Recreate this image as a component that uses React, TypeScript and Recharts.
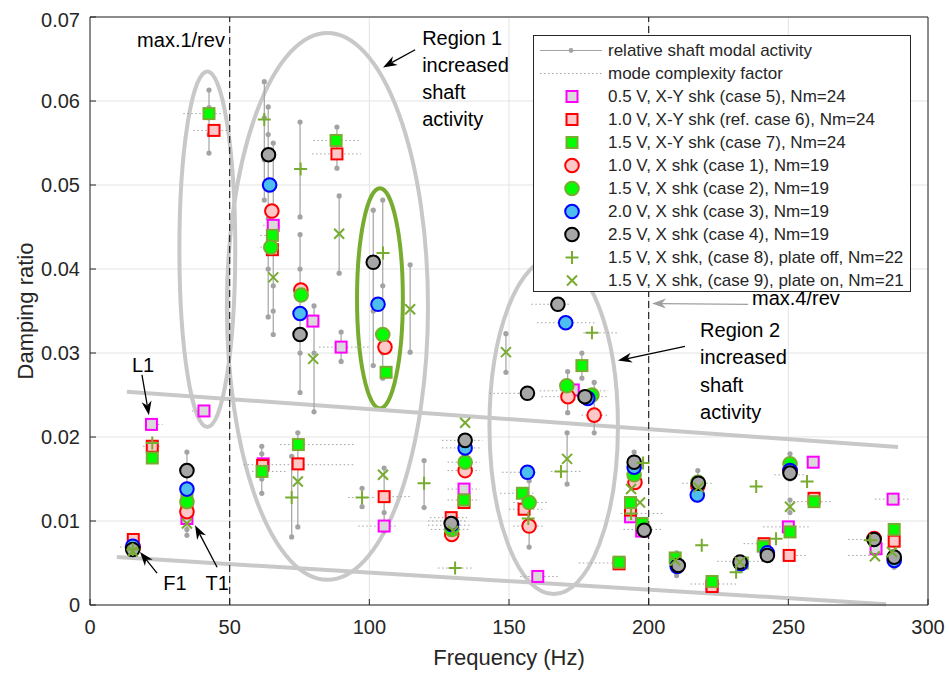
import React from 'react';
import {
  ScatterChart,
  Scatter,
  XAxis,
  YAxis,
  CartesianGrid,
  ReferenceLine,
  ReferenceArea,
  Legend,
} from 'recharts';

type Pt = [number, number];

// damping ratio vs frequency (Hz), one list per test case
const case5: Pt[] = [
  [22, 0.0215], [34.7, 0.0103], [40.8, 0.0231], [62, 0.0168], [65.6, 0.0452], [79.8, 0.0338],
  [89.9, 0.0307], [105.3, 0.0094], [133.9, 0.0138], [160.3, 0.0034], [173, 0.0256],
  [193.5, 0.0105], [197.5, 0.0088], [222.7, 0.0023], [250, 0.0093], [258.9, 0.017],
  [281.4, 0.0067], [287.5, 0.0126],
];
const case6: Pt[] = [
  [15.5, 0.0078], [22.3, 0.0189], [34.7, 0.0117], [44.4, 0.0565], [61.8, 0.0166], [65.3, 0.0423],
  [74.5, 0.0168], [88.4, 0.0537], [105.3, 0.0129], [129.3, 0.0104], [133.9, 0.0122],
  [155.4, 0.0114], [189.4, 0.0049], [193.5, 0.0113], [222.7, 0.0022], [241.3, 0.0073],
  [250.3, 0.0059], [259.2, 0.0127], [287.9, 0.0076],
];
const case7: Pt[] = [
  [22.3, 0.0175], [34.7, 0.0126], [42.6, 0.0585], [61.6, 0.0159], [65.3, 0.044], [74.6, 0.0191],
  [88.1, 0.0553], [106, 0.0277], [129.5, 0.0095], [133.9, 0.0125], [154.8, 0.0133],
  [176.1, 0.0285], [193.5, 0.0122], [197.6, 0.0097], [189.4, 0.0051], [209.5, 0.0056],
  [222.7, 0.0028], [233.5, 0.005], [241, 0.007], [250.6, 0.0087], [259.2, 0.0123], [287.9, 0.009],
];
const case1: Pt[] = [
  [15.5, 0.0069], [34.7, 0.0111], [65.1, 0.0469], [75.5, 0.0375], [105.6, 0.0307], [129.5, 0.0084],
  [134.3, 0.016], [157.2, 0.0094], [171.1, 0.0248], [180.5, 0.0226], [195.1, 0.0146],
  [217.6, 0.0142], [250.6, 0.016], [280.7, 0.0079],
];
const case2: Pt[] = [
  [34.7, 0.0123], [64.7, 0.0426], [75.6, 0.0369], [104.8, 0.0322], [129.5, 0.009], [134.3, 0.017],
  [157.2, 0.0122], [170.7, 0.0261], [179.7, 0.025], [194.8, 0.0155], [217.6, 0.0146],
  [250.6, 0.0168],
];
const case3: Pt[] = [
  [15.3, 0.007], [34.7, 0.0138], [64.3, 0.05], [75.2, 0.0347], [103.1, 0.0358], [129.5, 0.0096],
  [134.3, 0.0187], [156.6, 0.0158], [170.3, 0.0336], [178.2, 0.0246], [194.8, 0.0164],
  [210.2, 0.0046], [217.4, 0.0131], [233, 0.0049], [242.5, 0.0062], [250.6, 0.016], [287.9, 0.0053],
];
const case4: Pt[] = [
  [15.3, 0.0066], [34.7, 0.016], [63.9, 0.0536], [75.2, 0.0322], [101.4, 0.0408], [129.3, 0.0097],
  [134.3, 0.0196], [156.6, 0.0252], [167.5, 0.0358], [177.2, 0.0248], [194.8, 0.017],
  [198.4, 0.0089], [210.6, 0.0047], [217.8, 0.0145], [232.7, 0.0051], [242.5, 0.0059],
  [250.6, 0.0157], [280.7, 0.0078], [287.9, 0.0057],
];
const case8: Pt[] = [
  [15.3, 0.0066], [22.3, 0.0193], [62.4, 0.0578], [72.2, 0.0128], [75.4, 0.0519], [97.4, 0.0128],
  [104.9, 0.0419], [119.6, 0.0145], [130.7, 0.0044], [156.9, 0.0103], [168.6, 0.0159],
  [179.7, 0.0324], [193.7, 0.0109], [198, 0.0169], [219, 0.0071], [231.3, 0.0039],
  [238.5, 0.0141], [245.6, 0.0079], [256.7, 0.0147], [279.3, 0.0077],
];
const case9: Pt[] = [
  [15.3, 0.0064], [34.7, 0.0097], [65.6, 0.039], [74.4, 0.0147], [79.9, 0.0293], [89.2, 0.0442],
  [104.9, 0.0155], [114.6, 0.0352], [130, 0.0088], [134.3, 0.0217], [148.9, 0.0301],
  [170.8, 0.0174], [193.7, 0.0138], [196.9, 0.0122], [209.5, 0.0053], [217.8, 0.014],
  [232.7, 0.0051], [250.6, 0.0117], [281, 0.0058], [287.1, 0.0063],
];

// relative shaft modal activity: frequency, damping values along the bar
const shaftBars: [number, number[]][] = [
  [15.3, [0.0063, 0.0075]],
  [34.7, [0.0083, 0.009, 0.01, 0.016, 0.0182]],
  [42.6, [0.0538, 0.056, 0.058, 0.0592, 0.0613]],
  [62.4, [0.0482, 0.053, 0.058, 0.0623]],
  [63.8, [0.0343, 0.04, 0.046, 0.05, 0.056, 0.0593]],
  [65.6, [0.0322, 0.035, 0.038, 0.042, 0.055]],
  [75.2, [0.0462, 0.0575]],
  [75.2, [0.0253, 0.03, 0.035, 0.04, 0.0441]],
  [80.2, [0.023, 0.03, 0.0356]],
  [88.4, [0.052, 0.0569]],
  [89.9, [0.029, 0.0325]],
  [89.2, [0.0395, 0.0487]],
  [101.4, [0.0285, 0.035, 0.047]],
  [104.8, [0.027, 0.03, 0.038, 0.0482]],
  [114.6, [0.0301, 0.0405]],
  [61.5, [0.0133, 0.015, 0.018, 0.0189]],
  [74.4, [0.0093, 0.0205]],
  [72.2, [0.0081, 0.0177]],
  [105.3, [0.0088, 0.011, 0.0163]],
  [97.4, [0.0117, 0.0139]],
  [119.6, [0.0116, 0.0172]],
  [129.3, [0.0078, 0.0106]],
  [148.9, [0.0277, 0.0323]],
  [157.2, [0.0069, 0.0148]],
  [170.8, [0.0144, 0.0205]],
  [171, [0.0229, 0.0278]],
  [180.5, [0.0205, 0.0265]],
  [176.1, [0.027, 0.03]],
  [194.8, [0.014, 0.0182]],
  [217.6, [0.0125, 0.016]],
  [250.6, [0.015, 0.018]],
  [250.6, [0.011, 0.0125]],
  [210, [0.0035, 0.0062]],
  [287.9, [0.0045, 0.0075]],
];

// mode complexity factor: damping, from f, to f
const mcf: [number, number, number][] = [
  [0.0585, 33.4, 47], [0.0565, 37, 51], [0.0553, 80, 97], [0.0537, 79.5, 97],
  [0.0452, 62, 68], [0.044, 61, 68], [0.0426, 61, 67], [0.0307, 82, 100],
  [0.0231, 36.5, 43.5], [0.0215, 20, 26], [0.0189, 19, 25], [0.0191, 68, 95],
  [0.0167, 55, 95], [0.0159, 58, 70], [0.0069, 10.7, 16], [0.0128, 92.4, 102],
  [0.0129, 106.8, 114.6], [0.0094, 96, 110], [0.0044, 124.6, 137], [0.0104, 121.7, 135],
  [0.01, 121, 135], [0.0095, 121, 136], [0.009, 122, 136], [0.0138, 128, 139.6],
  [0.0125, 128, 139.6], [0.016, 128, 139.6], [0.017, 128, 139.6], [0.0187, 126, 139.6],
  [0.0196, 126, 140.5], [0.0158, 147.5, 160], [0.0133, 146.8, 158.7], [0.0122, 151.5, 164],
  [0.0114, 150, 163], [0.0094, 151.5, 163], [0.0034, 154, 167.6], [0.0358, 158, 172],
  [0.0336, 160, 181], [0.0324, 176.6, 188.7], [0.0252, 143, 155], [0.0255, 161, 185.5],
  [0.0248, 161.6, 185], [0.0226, 176, 186], [0.0159, 165, 176], [0.005, 175, 188],
  [0.0109, 190, 205], [0.009, 191, 205], [0.0155, 245, 256], [0.0123, 251.7, 266],
  [0.0126, 281, 294], [0.0093, 241, 257.8], [0.0073, 234, 241.7], [0.0052, 224.5, 240.6],
  [0.0078, 271.4, 281.8], [0.0059, 271.4, 282], [0.0059, 250, 257], [0.0025, 215, 232],
  [0.0145, 212, 222.7],
];

const xTicks = [0, 50, 100, 150, 200, 250, 300];
const yTicks = [0, 0.01, 0.02, 0.03, 0.04, 0.05, 0.06, 0.07];

// annotation shapes (data coordinates)
const ellipses = [
  { f0: 32, f1: 52, d0: 0.0212, d1: 0.0635, color: '#c8c8c8' },
  { f0: 49, f1: 121, d0: 0.003, d1: 0.0681, color: '#c8c8c8' },
  { f0: 143, f1: 189, d0: 0.0013, d1: 0.0413, color: '#c8c8c8' },
  { f0: 95.6, f1: 112, d0: 0.0234, d1: 0.0496, color: '#77ac30' },
];
const bands = [
  { a: [13.2, 0.0254], b: [289.3, 0.0188] },
  { a: [9.6, 0.0057], b: [285, 0.0001] },
];
const arrows = [
  { a: [116.4, 0.0661], b: [104.9, 0.064], color: '#000' },
  { a: [213, 0.0308], b: [189, 0.0291], color: '#000' },
  { a: [235.6, 0.0358], b: [201.2, 0.0359], color: '#a0a0a0' },
  { a: [18.6, 0.0274], b: [21.1, 0.0226], color: '#000' },
  { a: [24, 0.0038], b: [17.9, 0.0063], color: '#000' },
  { a: [45.5, 0.0045], b: [37.6, 0.0095], color: '#000' },
];
const notes = [
  { f: 48.3, d: 0.0673, text: 'max.1/rev', anchor: 'end' },
  { f: 118.9, d: 0.0675, text: 'Region 1', anchor: 'start' },
  { f: 118.9, d: 0.0643, text: 'increased', anchor: 'start' },
  { f: 118.9, d: 0.0611, text: 'shaft', anchor: 'start' },
  { f: 118.9, d: 0.0579, text: 'activity', anchor: 'start' },
  { f: 218.4, d: 0.0327, text: 'Region 2', anchor: 'start' },
  { f: 218.4, d: 0.0295, text: 'increased', anchor: 'start' },
  { f: 218.4, d: 0.0262, text: 'shaft', anchor: 'start' },
  { f: 218.4, d: 0.023, text: 'activity', anchor: 'start' },
  { f: 237, d: 0.0365, text: 'max.4/rev', anchor: 'start' },
  { f: 19, d: 0.0286, text: 'L1', anchor: 'middle' },
  { f: 30.4, d: 0.0026, text: 'F1', anchor: 'middle' },
  { f: 45.5, d: 0.0026, text: 'T1', anchor: 'middle' },
];

const OLIVE = '#77ac30';
const GREY = '#a3a3a3';

const square = (stroke: string, fill: string) => (p: any) => (
  <rect x={p.cx - 5.5} y={p.cy - 5.5} width={11} height={11} fill={fill} stroke={stroke} strokeWidth={2} />
);
const circle = (stroke: string, fill: string) => (p: any) => (
  <circle cx={p.cx} cy={p.cy} r={6.8} fill={fill} stroke={stroke} strokeWidth={2} />
);
const plus = (p: any) => (
  <path d={`M${p.cx - 6.5},${p.cy}h13M${p.cx},${p.cy - 6.5}v13`} stroke={OLIVE} strokeWidth={2} />
);
const cross = (p: any) => (
  <path d={`M${p.cx - 5},${p.cy - 5}l10,10M${p.cx - 5},${p.cy + 5}l10,-10`} stroke={OLIVE} strokeWidth={2} />
);
const greyDot = (p: any) => <circle cx={p.cx} cy={p.cy} r={2.6} fill={GREY} />;
const noDot = () => <g />;

const series = [
  { name: '0.5 V, X-Y shk (case 5), Nm=24', data: case5, shape: square('#ff00ff', '#d9d9d9') },
  { name: '1.0 V, X-Y shk (ref. case 6), Nm=24', data: case6, shape: square('#ff0000', '#ffc8c8') },
  { name: '1.5 V, X-Y shk (case 7), Nm=24', data: case7, shape: square(OLIVE, '#00ff00') },
  { name: '1.0 V, X shk (case 1), Nm=19', data: case1, shape: circle('#ff0000', '#ffc8c8') },
  { name: '1.5 V, X shk (case 2), Nm=19', data: case2, shape: circle(OLIVE, '#00ff00') },
  { name: '2.0 V, X shk (case 3), Nm=19', data: case3, shape: circle('#0000ff', '#4dbeee') },
  { name: '2.5 V, X shk (case 4), Nm=19', data: case4, shape: circle('#000000', '#a6a6a6') },
  { name: '1.5 V, X shk, (case 8), plate off, Nm=22', data: case8, shape: plus },
  { name: '1.5 V, X shk, (case 9), plate on, Nm=21', data: case9, shape: cross },
];

const arrowShape = (color: string) => (p: any) => {
  const { x1, y1, x2, y2 } = p;
  const ang = Math.atan2(y2 - y1, x2 - x1);
  const c = Math.cos(ang);
  const s = Math.sin(ang);
  const L = 14;
  const W = 5;
  const bx = x2 - L * c;
  const by = y2 - L * s;
  const mx = x2 - 0.7 * L * c;
  const my = y2 - 0.7 * L * s;
  return (
    <g>
      <line x1={x1} y1={y1} x2={mx} y2={my} stroke={color} strokeWidth={1.3} />
      <path
        d={`M${x2},${y2}L${bx - s * W},${by + c * W}L${mx},${my}L${bx + s * W},${by - c * W}Z`}
        fill={color}
      />
    </g>
  );
};

const ellipseShape = (color: string) => (p: any) => (
  <ellipse
    cx={p.x + p.width / 2}
    cy={p.y + p.height / 2}
    rx={Math.abs(p.width) / 2}
    ry={Math.abs(p.height) / 2}
    fill="none"
    stroke={color}
    strokeWidth={4}
  />
);

const noteShape = (p: any) => (
  <text
    x={p.cx}
    y={p.cy}
    textAnchor={p.payload.anchor}
    dominantBaseline="central"
    fontSize={20}
    fill="#000"
  >
    {p.payload.text}
  </text>
);

const LegendBox = () => (
  <div
    style={{
      width: 378,
      height: 257,
      border: '1px solid #262626',
      background: '#fff',
      boxSizing: 'border-box',
      paddingTop: 3,
    }}
  >
    <div style={{ display: 'flex', alignItems: 'center', height: 23 }}>
      <svg width={74} height={23}>
        <line x1={6} y1={11.5} x2={68} y2={11.5} stroke={GREY} strokeWidth={1.2} />
        <circle cx={37} cy={11.5} r={2.4} fill={GREY} />
      </svg>
      <span style={{ fontSize: 17, color: '#262626', whiteSpace: 'nowrap' }}>relative shaft modal activity</span>
    </div>
    <div style={{ display: 'flex', alignItems: 'center', height: 23 }}>
      <svg width={74} height={23}>
        <line x1={6} y1={11.5} x2={68} y2={11.5} stroke={GREY} strokeWidth={1} strokeDasharray="1.5 2.5" />
      </svg>
      <span style={{ fontSize: 17, color: '#262626', whiteSpace: 'nowrap' }}>mode complexity factor</span>
    </div>
    {series.map((s) => (
      <div key={s.name} style={{ display: 'flex', alignItems: 'center', height: 23 }}>
        <svg width={74} height={23}>{s.shape({ cx: 38, cy: 11.5 })}</svg>
        <span style={{ fontSize: 17, color: '#262626', whiteSpace: 'nowrap' }}>{s.name}</span>
      </div>
    ))}
  </div>
);

export default function App() {
  return (
    <div
      style={{
        position: 'absolute',
        left: 8,
        top: 8,
        fontFamily: '"Liberation Sans", Arial, sans-serif',
      }}
    >
      <ScatterChart width={941} height={665} margin={{ top: 8, right: 20, bottom: 8, left: 10 }}>
        <CartesianGrid stroke="#e3e3e3" strokeWidth={1} />
        <XAxis
          dataKey="f"
          type="number"
          domain={[0, 300]}
          ticks={xTicks}
          height={60}
          tickSize={-6}
          tickMargin={21}
          stroke="#262626"
          tick={{ fontSize: 20, fill: '#262626' }}
          label={{ value: 'Frequency (Hz)', position: 'insideBottom', offset: 0, fontSize: 22, fill: '#262626' }}
        />
        <XAxis
          xAxisId="top"
          orientation="top"
          type="number"
          domain={[0, 300]}
          ticks={xTicks}
          height={1}
          tick={false}
          tickSize={-6}
          stroke="#262626"
        />
        <YAxis
          dataKey="d"
          type="number"
          domain={[0, 0.07]}
          ticks={yTicks}
          width={72}
          tickSize={-6}
          tickMargin={16}
          stroke="#262626"
          tickFormatter={(v: number) => (v === 0 ? '0' : v.toFixed(2))}
          tick={{ fontSize: 20, fill: '#262626' }}
          label={{
            value: 'Damping ratio',
            angle: -90,
            position: 'insideLeft',
            offset: 7,
            fontSize: 22,
            fill: '#262626',
            style: { textAnchor: 'middle' },
          }}
        />
        <YAxis
          yAxisId="right"
          orientation="right"
          type="number"
          domain={[0, 0.07]}
          ticks={yTicks}
          width={1}
          tick={false}
          tickSize={-6}
          stroke="#262626"
        />
        <Legend
          layout="vertical"
          align="center"
          verticalAlign="middle"
          wrapperStyle={{ left: 525, top: 27, width: 378, height: 257 }}
          content={() => <LegendBox />}
        />

        {ellipses.map((e, i) => (
          <ReferenceArea
            key={`el${i}`}
            x1={e.f0}
            x2={e.f1}
            y1={e.d0}
            y2={e.d1}
            shape={ellipseShape(e.color)}
          />
        ))}
        {bands.map((b, i) => (
          <ReferenceLine
            key={`bd${i}`}
            segment={[{ x: b.a[0], y: b.a[1] }, { x: b.b[0], y: b.b[1] }]}
            stroke="#c8c8c8"
            strokeWidth={4}
          />
        ))}
        <ReferenceLine x={50} stroke="#262626" strokeDasharray="7 4" strokeWidth={1.2} />
        <ReferenceLine x={200} stroke="#262626" strokeDasharray="7 4" strokeWidth={1.2} />

        {mcf.map(([d, f0, f1], i) => (
          <Scatter
            key={`mc${i}`}
            data={[{ f: f0, d }, { f: f1, d }]}
            line={{ stroke: GREY, strokeWidth: 1, strokeDasharray: '1.5 2.5' }}
            lineType="joint"
            shape={noDot}
            legendType="none"
            isAnimationActive={false}
          />
        ))}
        {shaftBars.map(([f, vals], i) => (
          <Scatter
            key={`sb${i}`}
            data={vals.map((d) => ({ f, d }))}
            line={{ stroke: GREY, strokeWidth: 1.2 }}
            lineType="joint"
            shape={greyDot}
            legendType="none"
            isAnimationActive={false}
          />
        ))}
        {series.map((s) => (
          <Scatter
            key={s.name}
            name={s.name}
            data={s.data.map(([f, d]) => ({ f, d }))}
            shape={s.shape}
            isAnimationActive={false}
          />
        ))}
        {arrows.map((a, i) => (
          <ReferenceLine
            key={`ar${i}`}
            segment={[{ x: a.a[0], y: a.a[1] }, { x: a.b[0], y: a.b[1] }]}
            shape={arrowShape(a.color)}
          />
        ))}
        <Scatter data={notes} shape={noteShape} legendType="none" isAnimationActive={false} />
      </ScatterChart>
    </div>
  );
}
